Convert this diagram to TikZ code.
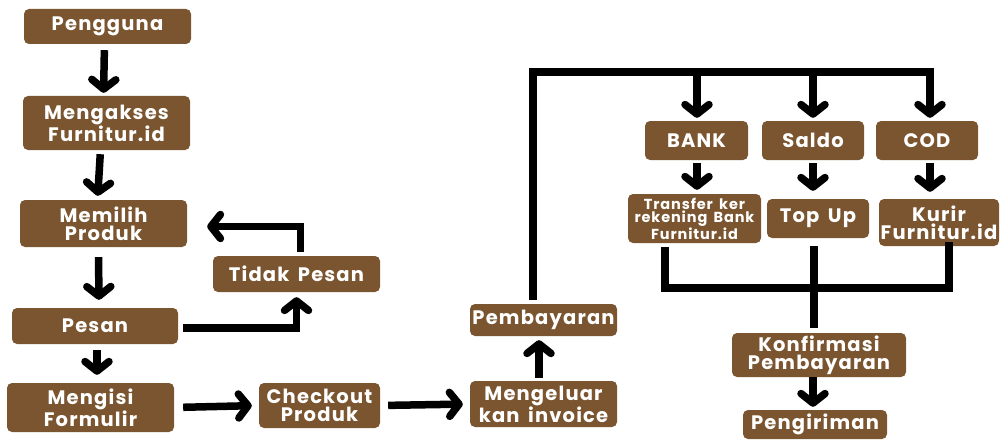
\documentclass[tikz,border=0pt]{standalone}
\usepackage{fontspec}
\setmainfont{Poppins}[LetterSpace=6,WordSpace=1.6]
\usetikzlibrary{arrows.meta}
\definecolor{brn}{RGB}{122,85,48}
\begin{document}
\begin{tikzpicture}[x=1pt,y=-1pt,
  box/.style={fill=brn, rounded corners=5pt, text=white, font=\fontsize{19.5}{18}\selectfont\bfseries, align=center, inner sep=0pt},
  small/.style={font=\fontsize{14.5}{13.5}\selectfont\bfseries},
  arr/.style={line width=7.5pt, -{Straight Barb[length=9.5pt,width=24pt,round]}},
  ln/.style={line width=7.5pt}]
\useasboundingbox (0,0) rectangle (1000,441);
% left column
\node[box, minimum width=167pt, minimum height=35pt] (user) at (107.5,26.5) {Pengguna};
\node[box, minimum width=167pt, minimum height=54pt] (akses) at (106.5,123) {Mengakses\\Furnitur.id};
\node[box, minimum width=167pt, minimum height=47pt] (pilih) at (103.5,223.5) {Memilih\\Produk};
\node[box, minimum width=167pt, minimum height=36pt] (tidak) at (296.5,274) {Tidak Pesan};
\node[box, minimum width=166pt, minimum height=36pt] (pesan) at (95,326) {Pesan};
\node[box, minimum width=167pt, minimum height=49pt] (isi) at (90.5,407.5) {Mengisi\\Formulir};
\node[box, minimum width=121pt, minimum height=45pt] (co) at (319.5,405.5) {Checkout\\Produk};
\node[box, minimum width=147pt, minimum height=32pt] (bayar) at (543.5,320) {Pembayaran};
\node[box, minimum width=147pt, minimum height=46pt] (inv) at (543.5,404) {Mengeluar\\kan invoice};
% right part
\node[box, minimum width=103pt, minimum height=39pt] (bank) at (696.5,140.5) {BANK};
\node[box, minimum width=102pt, minimum height=39pt] (saldo) at (813,140.5) {Saldo};
\node[box, minimum width=102pt, minimum height=39pt] (cod) at (927,140.5) {COD};
\node[box, small, minimum width=133pt, minimum height=49pt] (trf) at (694.5,218.5) {Transfer ker\\rekening Bank\\Furnitur.id};
\node[box, minimum width=102pt, minimum height=39pt] (top) at (818,218.5) {Top Up};
\node[box, minimum width=120pt, minimum height=47pt] (kurir) at (939,222.5) {Kurir\\Furnitur.id};
\node[box, minimum width=174pt, minimum height=44pt] (konf) at (819,355) {Konfirmasi\\Pembayaran};
\node[box, minimum width=144pt, minimum height=29pt] (kirim) at (815,424.5) {Pengiriman};
% junction coordinates
\coordinate (jl) at (533,72);
\coordinate (jr) at (930,72);
\coordinate (jb) at (697,72);
\coordinate (js) at (813,72);
\coordinate (ml) at (665,288);
\coordinate (mr) at (949,288);
% left arrows
\draw[arr, shorten <=6pt, shorten >=3pt] ([xshift=-3pt]user.south) -- ([xshift=-3pt]akses.north);
\draw[arr, shorten <=4pt, shorten >=4pt] ([xshift=-6pt]akses.south) -- ([xshift=-6pt]pilih.north);
\draw[arr, shorten <=10pt, shorten >=8pt] ([xshift=-5pt]pilih.south) -- ([xshift=4pt]pesan.north);
\draw[arr, shorten <=6pt, shorten >=8pt] ([xshift=2pt]pesan.south) -- ([xshift=6.5pt]isi.north);
\draw[arr, shorten <=5pt, shorten >=5pt] ([yshift=-2pt]pesan.east) -| (tidak.south);
\draw[arr, shorten <=4pt, shorten >=20pt] ([xshift=4pt]tidak.north) |- ([yshift=-3pt]pilih.east);
\draw[arr, shorten <=9pt, shorten >=7pt] (isi.east) -- (co.west);
\draw[arr, shorten <=8pt, shorten >=7pt] (co.east) -- (inv.west);
\draw[arr, shorten <=3pt, shorten >=4pt] ([xshift=-4.5pt]inv.north) -- ([xshift=-4.5pt]bayar.south);
% payment tree
\draw[ln, shorten <=4pt, line join=miter] ([xshift=-10.5pt]bayar.north) |- (jl) -- (jr) -- ++(0,10);
\draw[arr, shorten >=3pt] (jr) -- (jr |- cod.north);
\draw[arr, shorten >=3pt] (jb) -- (jb |- bank.north);
\draw[arr, shorten >=3pt] (js) -- (js |- saldo.north);
\draw[arr, shorten <=3pt, shorten >=4pt] (jb |- bank.south) -- (jb |- trf.north);
\draw[arr, shorten <=3pt, shorten >=8pt] (js |- saldo.south) -- (js |- top.north);
\draw[arr, shorten <=3pt, shorten >=7pt] (jr |- cod.south) -- (jr |- kurir.north);
% merge
\draw[ln, shorten <=4pt] (ml |- trf.south) -- (ml) -- (mr) -- (mr |- kurir.south) -- ++(0,-4);
\draw[ln, shorten <=8pt, shorten >=5pt] ([xshift=-4pt]top.south) -- ([xshift=-5pt]konf.north);
\draw[arr, shorten <=0pt, shorten >=3pt] ([xshift=-6pt]konf.south) -- ([xshift=-2pt]kirim.north);
\end{tikzpicture}
\end{document}
